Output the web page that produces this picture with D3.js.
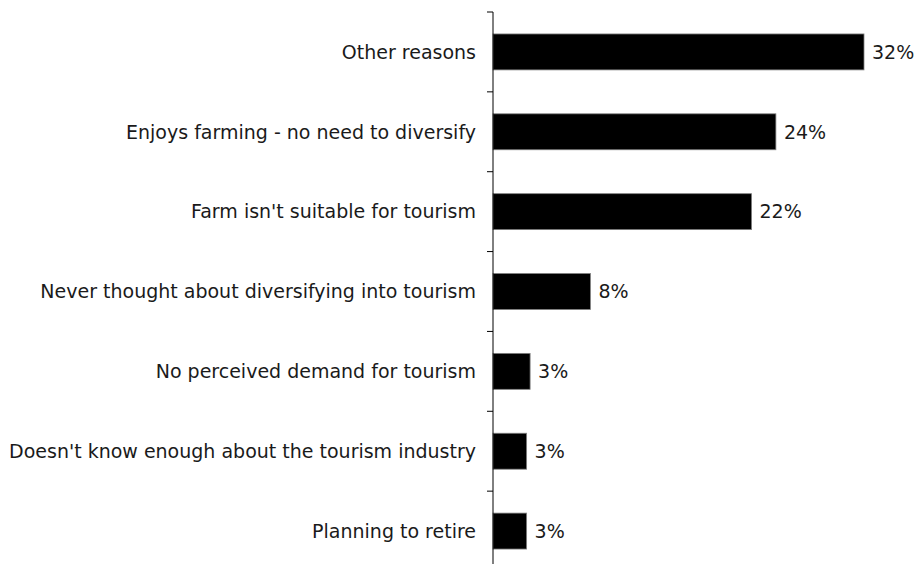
<!DOCTYPE html>
<html>
<head>
<meta charset="utf-8">
<script src="https://cdn.jsdelivr.net/npm/d3@7"></script>
<style>
  html, body { margin: 0; padding: 0; background: #ffffff; }
  svg { display: block; }
</style>
</head>
<body>
<svg id="chart" width="917" height="564"></svg>
<script>
// Reasons given for not diversifying into tourism (share of respondents, %)
const categories = [
  "Other reasons",
  "Enjoys farming - no need to diversify",
  "Farm isn't suitable for tourism",
  "Never thought about diversifying into tourism",
  "No perceived demand for tourism",
  "Doesn't know enough about the tourism industry",
  "Planning to retire"
];
const values = [32.0, 24.4, 22.3, 8.4, 3.2, 2.9, 2.9];

const width = 917, height = 564;
const axisX = 493;
const fontFamily = "'DejaVu Sans', Verdana, sans-serif";
const fontSize = 19;
const textColor = "#1a1a1a";

const svg = d3.select("#chart");

const x = d3.scaleLinear().domain([0, 32]).range([axisX, 864]);
const y = d3.scaleBand()
  .domain(categories)
  .range([12, 571])
  .paddingInner(0.55)
  .paddingOuter(0.275);

const data = categories.map((c, i) => ({ category: c, value: values[i] }));
const fmt = d => d3.format(".0f")(d) + "%";

// bars
svg.append("g")
  .selectAll("rect")
  .data(data)
  .join("rect")
  .attr("x", x(0))
  .attr("y", d => y(d.category))
  .attr("width", d => x(d.value) - x(0))
  .attr("height", y.bandwidth())
  .attr("fill", "#000000")
  .attr("stroke", "#7f7f7f")
  .attr("stroke-width", 0.8);

// vertical category axis with ticks between categories
const step = y.step();
const slotStart = d => y(d) - step * y.paddingInner() / 2;
const tickYs = categories.map(slotStart).concat([slotStart(categories[categories.length - 1]) + step]);

const axis = svg.append("g");
axis.append("line")
  .attr("x1", axisX).attr("x2", axisX)
  .attr("y1", tickYs[0]).attr("y2", tickYs[tickYs.length - 1])
  .attr("stroke", "#000").attr("stroke-width", 1);
axis.selectAll("line.tick")
  .data(tickYs)
  .join("line")
  .attr("class", "tick")
  .attr("x1", axisX - 6).attr("x2", axisX)
  .attr("y1", d => d).attr("y2", d => d)
  .attr("stroke", "#000").attr("stroke-width", 1);

// category labels
svg.append("g")
  .selectAll("text")
  .data(data)
  .join("text")
  .attr("x", axisX - 17)
  .attr("y", d => y(d.category) + y.bandwidth() / 2)
  .attr("dy", "0.36em")
  .attr("text-anchor", "end")
  .attr("font-family", fontFamily)
  .attr("font-size", fontSize)
  .attr("fill", textColor)
  .text(d => d.category);

// value labels
svg.append("g")
  .selectAll("text")
  .data(data)
  .join("text")
  .attr("x", d => x(d.value) + 8)
  .attr("y", d => y(d.category) + y.bandwidth() / 2)
  .attr("dy", "0.36em")
  .attr("font-family", fontFamily)
  .attr("font-size", fontSize)
  .attr("fill", textColor)
  .text(d => fmt(d.value));
</script>
</body>
</html>
